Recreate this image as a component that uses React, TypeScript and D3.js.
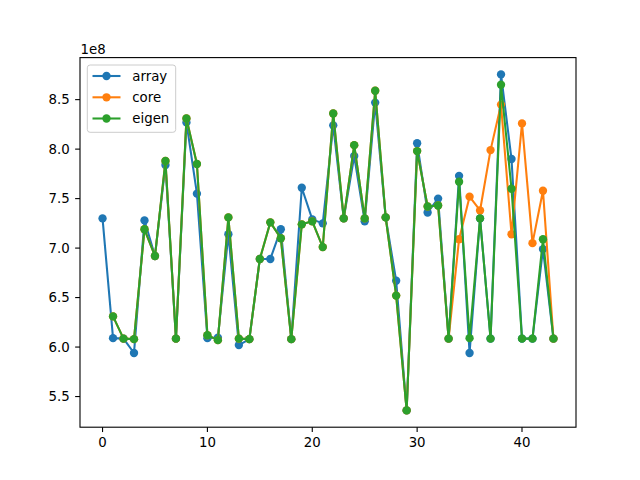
import React from "react";
import * as d3 from "d3";

const indices: number[] = [
  0, 1, 2, 3, 4, 5, 6, 7, 8, 9, 10, 11, 12, 13, 14, 15, 16, 17, 18, 19, 20, 21,
  22, 23, 24, 25, 26, 27, 28, 29, 30, 31, 32, 33, 34, 35, 36, 37, 38, 39, 40, 41, 42, 43,
];

const arrayVals: (number | null)[] = [
  7.30e8, 6.09e8, 6.085e8, 5.94e8, 7.28e8, 6.92e8, 7.84e8, 6.085e8, 8.27e8, 7.55e8,
  6.09e8, 6.095e8, 7.14e8, 6.02e8, 6.08e8, 6.89e8, 6.89e8, 7.19e8, 6.08e8, 7.61e8,
  7.29e8, 7.25e8, 8.24e8, 7.30e8, 7.93e8, 7.27e8, 8.47e8, 7.31e8, 6.67e8, 5.36e8,
  8.06e8, 7.36e8, 7.50e8, 6.085e8, 7.73e8, 5.94e8, 7.30e8, 6.085e8, 8.755e8, 7.90e8,
  6.085e8, 6.085e8, 6.99e8, 6.085e8,
];

const coreVals: (number | null)[] = [
  null, 6.31e8, 6.085e8, 6.08e8, 7.19e8, 6.92e8, 7.88e8, 6.085e8, 8.31e8, 7.85e8,
  6.12e8, 6.07e8, 7.31e8, 6.085e8, 6.08e8, 6.89e8, 7.26e8, 7.10e8, 6.08e8, 7.24e8,
  7.27e8, 7.01e8, 8.36e8, 7.30e8, 8.04e8, 7.30e8, 8.59e8, 7.31e8, 6.52e8, 5.36e8,
  7.98e8, 7.42e8, 7.43e8, 6.085e8, 7.09e8, 7.52e8, 7.38e8, 7.99e8, 8.45e8, 7.14e8,
  8.26e8, 7.05e8, 7.58e8, 6.085e8,
];

const eigenVals: (number | null)[] = [
  null, 6.31e8, 6.085e8, 6.08e8, 7.19e8, 6.92e8, 7.88e8, 6.085e8, 8.31e8, 7.85e8,
  6.12e8, 6.07e8, 7.31e8, 6.085e8, 6.08e8, 6.89e8, 7.26e8, 7.10e8, 6.08e8, 7.24e8,
  7.27e8, 7.01e8, 8.36e8, 7.30e8, 8.04e8, 7.30e8, 8.59e8, 7.31e8, 6.52e8, 5.36e8,
  7.98e8, 7.42e8, 7.43e8, 6.085e8, 7.67e8, 6.09e8, 7.30e8, 6.085e8, 8.65e8, 7.60e8,
  6.085e8, 6.085e8, 7.09e8, 6.085e8,
];

const seriesNames = ["array", "core", "eigen"];
const seriesColors = ["#1f77b4", "#ff7f0e", "#2ca02c"];
const xTicks = [0, 10, 20, 30, 40];
const yTicks = [5.5e8, 6.0e8, 6.5e8, 7.0e8, 7.5e8, 8.0e8, 8.5e8];

const W = 640;
const H = 480;
const L = 80;
const R = 576;
const T = 57.6;
const B = 427.2;
const FONT = "DejaVu Sans, sans-serif";

export default function App() {
  const allSeries = [arrayVals, coreVals, eigenVals];
  const allVals = allSeries.flat().filter((v): v is number => v != null);
  const [ymin, ymax] = d3.extent(allVals) as [number, number];
  const ypad = (ymax - ymin) * 0.05;
  const [xmin, xmax] = d3.extent(indices) as [number, number];
  const xpad = (xmax - xmin) * 0.05;

  const x = d3.scaleLinear().domain([xmin - xpad, xmax + xpad]).range([L, R]);
  const y = d3.scaleLinear().domain([ymin - ypad, ymax + ypad]).range([B, T]);

  const line = d3
    .line<[number, number | null]>()
    .defined((d) => d[1] != null)
    .x((d) => x(d[0]))
    .y((d) => y(d[1] as number));

  const tickLen = 4.86;
  const legendX = 87.3;
  const legendY = 65;
  const legendW = 88.4;
  const legendH = 67.3;
  const entryYs = [76, 97.3, 118.5];
  const lw = 2.08;
  const mr = 4.17;

  return (
    <svg
      width={W}
      height={H}
      style={{ position: "absolute", left: 0, top: 0, background: "#fff" }}
      fontFamily={FONT}
    >
      <rect x={0} y={0} width={W} height={H} fill="#fff" />
      <defs>
        <clipPath id="plotclip">
          <rect x={L} y={T} width={R - L} height={B - T} />
        </clipPath>
      </defs>
      <g clipPath="url(#plotclip)">
        {allSeries.map((vals, si) => {
          const pts: [number, number | null][] = indices.map((i, k) => [i, vals[k]]);
          return (
            <g key={si}>
              <path
                d={line(pts) || ""}
                fill="none"
                stroke={seriesColors[si]}
                strokeWidth={lw}
                strokeLinejoin="round"
                strokeLinecap="butt"
              />
              {pts
                .filter((p) => p[1] != null)
                .map((p, k) => (
                  <circle
                    key={k}
                    cx={x(p[0])}
                    cy={y(p[1] as number)}
                    r={mr}
                    fill={seriesColors[si]}
                  />
                ))}
            </g>
          );
        })}
      </g>
      <rect
        x={L}
        y={T}
        width={R - L}
        height={B - T}
        fill="none"
        stroke="#000"
        strokeWidth={1.1}
      />
      {xTicks.map((t) => (
        <g key={t}>
          <line x1={x(t)} x2={x(t)} y1={B} y2={B + tickLen} stroke="#000" strokeWidth={1.1} />
          <text x={x(t)} y={447} textAnchor="middle" fontSize={13.33} fill="#000">
            {t}
          </text>
        </g>
      ))}
      {yTicks.map((t) => (
        <g key={t}>
          <line x1={L - tickLen} x2={L} y1={y(t)} y2={y(t)} stroke="#000" strokeWidth={1.1} />
          <text
            x={L - 2 * tickLen - 0.5}
            y={y(t)}
            dy="0.36em"
            textAnchor="end"
            fontSize={13.33}
            fill="#000"
          >
            {(t / 1e8).toFixed(1)}
          </text>
        </g>
      ))}
      <text x={80.5} y={53.5} fontSize={13.33} fill="#000">
        1e8
      </text>
      <g>
        <rect
          x={legendX}
          y={legendY}
          width={legendW}
          height={legendH}
          rx={2.8}
          ry={2.8}
          fill="#fff"
          fillOpacity={0.8}
          stroke="#cccccc"
          strokeWidth={1}
        />
        {seriesNames.map((name, i) => (
          <g key={name}>
            <line
              x1={92.5}
              x2={120.5}
              y1={entryYs[i]}
              y2={entryYs[i]}
              stroke={seriesColors[i]}
              strokeWidth={lw}
            />
            <circle cx={106.5} cy={entryYs[i]} r={mr} fill={seriesColors[i]} />
            <text
              x={132.3}
              y={entryYs[i]}
              dy="0.36em"
              fontSize={13.33}
              fill="#000"
            >
              {name}
            </text>
          </g>
        ))}
      </g>
    </svg>
  );
}
